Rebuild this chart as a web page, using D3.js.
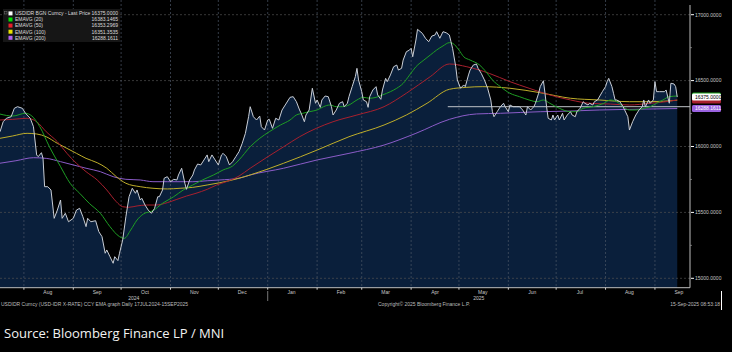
<!DOCTYPE html>
<html>
<head>
<meta charset="utf-8">
<script src="https://cdn.jsdelivr.net/npm/d3@7"></script>
<style>
  body { margin: 0; background: #000; }
  svg { display: block; font-family: 'Liberation Sans', Arial, sans-serif; }
</style>
</head>
<body>
<script>
// USDIDR daily, 17 Jul 2024 - 15 Sep 2025 (day offsets from start)
const startDate = new Date(2024, 6, 17)
const endDay = 433

const priceDays = [0,2,4,7,9,11,14,16,19,21,23,24,26,27,28,30,32,34,36,38,39,41,43,46,48,50,52,54,55,57,
  60,62,64,66,67,69,71,72,74,75,77,79,81,83,85,86,88,89,91,93,95,97,99,100,102,103,105,107,109,111,
  112,114,116,117,119,121,122,124,126,128,130,131,133,135,137,139,140,142,144,146,148,150,152,154,156,157,159,161,163,164,
  166,168,169,171,173,175,177,179,182,184,186,188,189,191,192,194,196,198,199,201,202,204,206,208,209,211,213,215,216,218,
  219,221,223,224,225,227,228,230,231,232,234,236,237,239,240,242,243,245,247,249,250,252,253,255,257,258,259,261,262,265,
  267,269,271,273,274,276,278,280,282,283,284,286,287,289,291,292,294,295,297,299,300,302,304,306,308,309,310,312,314,316,
  317,319,320,322,324,326,328,330,331,333,335,336,338,339,341,342,343,344,346,347,348,350,351,353,354,356,358,359,361,362,
  364,366,367,369,370,372,373,375,378,380,381,382,384,385,386,387,389,391,392,394,395,397,399,401,403,404,405,407,408,410,
  411,412,414,417,418,420,421,423,424,425]
const priceValues = [16112,16188,16214,16226,16290,16302,16290,16252,16214,16150,15936,15923,15953,15910,15695,15695,15670,15455,15518,15594,
  15455,15493,15429,15455,15518,15531,15467,15392,15455,15429,15437,15354,15316,15190,15215,15164,15114,15164,15134,15190,
  15291,15467,15619,15683,15645,15670,15594,15607,15556,15518,15493,15531,15619,15619,15670,15759,15771,15733,15751,15746,
  15784,15835,15721,15675,15746,15784,15822,15867,15860,15898,15936,15885,15936,15898,15860,15936,15948,15923,15860,15885,
  15923,15961,16024,16100,16226,16302,16226,16201,16231,16150,16125,16201,16206,16138,16214,16201,16277,16315,16373,16378,
  16340,16277,16252,16188,16239,16277,16442,16328,16353,16297,16353,16383,16378,16302,16239,16277,16328,16340,16302,16328,
  16378,16454,16530,16593,16505,16416,16353,16340,16297,16378,16429,16454,16391,16358,16429,16517,16492,16543,16605,16618,
  16580,16593,16656,16719,16732,16745,16681,16808,16889,16859,16821,16795,16838,16846,16871,16821,16871,16863,16846,16795,
  16745,16605,16505,16442,16467,16454,16543,16580,16618,16626,16593,16555,16505,16442,16353,16264,16226,16264,16302,16328,
  16302,16264,16315,16302,16302,16302,16277,16239,16302,16277,16302,16328,16404,16454,16499,16404,16302,16214,16201,16239,
  16201,16239,16201,16252,16201,16239,16264,16239,16226,16264,16290,16340,16328,16315,16328,16315,16340,16353,16416,16454,
  16492,16517,16454,16404,16353,16353,16340,16302,16277,16226,16125,16188,16239,16277,16302,16353,16302,16353,16328,16353,
  16492,16416,16416,16416,16429,16328,16480,16474,16454,16375]

// EMA curves: [day, value]
const ema20 = [[0,16246],[8,16231],[16,16252],[20,16231],[25,16150],[31,15998],[38,15847],[44,15721],[50,15645],[56,15569],
  [63,15493],[69,15392],[75,15316],[78,15303],[82,15366],[86,15442],[90,15488],[96,15513],[102,15569],[109,15619],
  [115,15670],[121,15708],[127,15746],[134,15784],[140,15822],[146,15852],[150,15898],[157,15998],[163,16062],[169,16112],
  [176,16163],[182,16201],[186,16239],[190,16252],[194,16264],[199,16277],[203,16302],[207,16315],[211,16302],[215,16302],
  [219,16315],[224,16353],[228,16373],[232,16366],[236,16373],[240,16391],[245,16416],[249,16442],[253,16479],[257,16542],
  [261,16605],[266,16656],[270,16694],[274,16732],[278,16763],[282,16788],[284,16783],[288,16732],[291,16681],[295,16656],
  [301,16618],[305,16567],[309,16505],[314,16454],[320,16404],[326,16378],[332,16353],[337,16340],[341,16353],[345,16328],
  [351,16290],[358,16264],[362,16264],[366,16290],[372,16302],[379,16328],[383,16353],[387,16340],[391,16302],[395,16277],
  [399,16277],[404,16290],[408,16302],[412,16328],[416,16353],[420,16378],[425,16383]]
const ema50 = [[0,16201],[8,16206],[17,16214],[23,16188],[29,16112],[36,16036],[42,15948],[48,15872],[54,15809],[61,15746],
  [67,15670],[73,15581],[77,15543],[81,15539],[86,15549],[92,15556],[98,15556],[105,15574],[111,15599],[117,15624],
  [123,15645],[130,15675],[136,15708],[142,15733],[150,15776],[157,15835],[178,15998],[188,16074],[209,16188],[224,16239],
  [241,16302],[255,16404],[270,16530],[282,16626],[293,16605],[307,16555],[320,16492],[332,16442],[345,16391],[358,16353],
  [370,16328],[383,16322],[395,16315],[408,16328],[418,16340],[425,16353]]
const ema100 = [[0,16062],[8,16080],[17,16100],[23,16095],[29,16074],[36,16024],[42,15986],[48,15948],[54,15910],[61,15877],
  [67,15835],[73,15771],[79,15721],[88,15695],[96,15683],[105,15678],[113,15683],[121,15690],[130,15708],[138,15725],
  [150,15759],[157,15784],[178,15873],[199,15973],[219,16074],[241,16163],[255,16239],[268,16328],[282,16434],[293,16449],
  [303,16454],[320,16442],[339,16408],[358,16366],[376,16353],[395,16340],[408,16340],[425,16351]]
const ema200 = [[0,15873],[10,15892],[21,15915],[29,15910],[38,15885],[46,15860],[54,15835],[63,15809],[71,15771],[79,15751],
  [88,15746],[96,15733],[105,15733],[113,15733],[121,15733],[130,15740],[138,15746],[150,15759],[157,15784],[178,15835],
  [199,15898],[219,15948],[241,16011],[261,16100],[282,16206],[299,16247],[314,16252],[339,16264],[358,16269],[376,16277],
  [395,16282],[425,16288]]

const refLine = { fromDay: 281, value: 16302 }

const seriesNames = ['USDIDR BGN Curncy - Last Price', 'EMAVG (20)', 'EMAVG (50)', 'EMAVG (100)', 'EMAVG (200)']
const seriesLast = ['16375.0000', '16383.1465', '16353.2969', '16351.3535', '16288.1611']
const seriesColors = ['#ffffff', '#1e9e24', '#a8202e', '#bfae2a', '#8b5cc8']
const swatchColors = ['#ffffff', '#00e000', '#e8202a', '#e8e000', '#b060f0']

const monthStarts = ['2024-08-01','2024-09-01','2024-10-01','2024-11-01','2024-12-01','2025-01-01','2025-02-01',
  '2025-03-01','2025-04-01','2025-05-01','2025-06-01','2025-07-01','2025-08-01','2025-09-01']
const monthLabels = ['Aug','Sep','Oct','Nov','Dec','Jan','Feb','Mar','Apr','May','Jun','Jul','Aug','Sep']
const yearLabels = ['2024', '2025']
const yTicks = [15000, 15500, 16000, 16500, 17000]

const W = 732, H = 352
const plotRight = 690, plotBottom = 287.7

const svg = d3.select('body').append('svg')
  .attr('width', W)
  .attr('height', H)
  .style('background', '#000')

const day = n => d3.timeDay.offset(startDate, n)
const parseDate = d3.timeParse('%Y-%m-%d')

const xScale = d3.scaleTime()
  .domain([startDate, day(endDay)])
  .range([0, plotRight])

const yScale = d3.scaleLinear()
  .domain([15000, 17000])
  .range([278.3, 14.7])

const price = priceDays.map((d, i) => ({ date: day(d), value: priceValues[i] }))

// grid
const grid = svg.append('g')
grid.selectAll('.hgrid')
  .data(yTicks)
  .enter().append('line')
  .attr('x1', 0).attr('x2', plotRight)
  .attr('y1', d => yScale(d)).attr('y2', d => yScale(d))
  .style('stroke', '#4f4f4f').style('stroke-width', 0.7).style('stroke-dasharray', '2,2')

// area
svg.append('path')
  .datum(price)
  .attr('d', d3.area()
    .x(d => xScale(d.date))
    .y0(plotBottom)
    .y1(d => yScale(d.value)))
  .style('fill', '#0a1f3b')

grid.raise()
svg.selectAll('.vgrid')
  .data(monthStarts)
  .enter().append('line')
  .attr('x1', d => xScale(parseDate(d))).attr('x2', d => xScale(parseDate(d)))
  .attr('y1', 0).attr('y2', plotBottom)
  .style('stroke', '#4a5466').style('stroke-width', 0.7).style('stroke-dasharray', '2,2')

// reference level
svg.append('line')
  .attr('x1', xScale(day(refLine.fromDay))).attr('x2', plotRight)
  .attr('y1', yScale(refLine.value)).attr('y2', yScale(refLine.value))
  .style('stroke', '#bfc3c8').style('stroke-width', 1)

// EMA lines
const emaLine = d3.line()
  .x(d => xScale(day(d[0])))
  .y(d => yScale(d[1]))
  .curve(d3.curveMonotoneX)

const emas = [ema200, ema100, ema50, ema20]
const emaColors = [seriesColors[4], seriesColors[3], seriesColors[2], seriesColors[1]]
svg.selectAll('.ema')
  .data(emas)
  .enter().append('path')
  .attr('d', emaLine)
  .style('fill', 'none')
  .style('stroke', (d, i) => emaColors[i])
  .style('stroke-width', 1)

// price line
svg.append('path')
  .datum(price)
  .attr('d', d3.line().x(d => xScale(d.date)).y(d => yScale(d.value)))
  .style('fill', 'none')
  .style('stroke', '#c9ced6')
  .style('stroke-width', 1)

// x axis
svg.append('line')
  .attr('x1', 0).attr('x2', plotRight)
  .attr('y1', plotBottom).attr('y2', plotBottom)
  .style('stroke', '#bdbdbd').style('stroke-width', 1)

svg.selectAll('.xtick')
  .data(monthStarts)
  .enter().append('line')
  .attr('x1', d => xScale(parseDate(d))).attr('x2', d => xScale(parseDate(d)))
  .attr('y1', plotBottom).attr('y2', plotBottom + 2)
  .style('stroke', '#d0d0d0').style('stroke-width', 1)

svg.selectAll('.xlabel')
  .data(monthStarts)
  .enter().append('text')
  .attr('x', d => xScale(d3.timeDay.offset(parseDate(d), 15)))
  .attr('y', 294)
  .attr('text-anchor', 'middle')
  .style('font-size', '5px')
  .style('fill', '#c8c8c8')
  .text((d, i) => monthLabels[i])

const yearBreak = xScale(new Date(2025, 0, 1))
svg.selectAll('.year')
  .data(yearLabels)
  .enter().append('text')
  .attr('x', (d, i) => i === 0 ? yearBreak / 2 : (yearBreak + plotRight) / 2)
  .attr('y', 300)
  .attr('text-anchor', 'middle')
  .style('font-size', '5px')
  .style('fill', '#c8c8c8')
  .text(d => d)

svg.append('line')
  .attr('x1', yearBreak).attr('x2', yearBreak)
  .attr('y1', 291).attr('y2', 301)
  .style('stroke', '#aaa').style('stroke-width', 0.7)

// y axis (right)
svg.append('line')
  .attr('x1', plotRight).attr('x2', plotRight)
  .attr('y1', 5).attr('y2', plotBottom)
  .style('stroke', '#bdbdbd').style('stroke-width', 1)

svg.selectAll('.yminor')
  .data(d3.range(15250, 17000, 500))
  .enter().append('line')
  .attr('x1', plotRight).attr('x2', plotRight + 2)
  .attr('y1', d => yScale(d)).attr('y2', d => yScale(d))
  .style('stroke', '#999').style('stroke-width', 0.7)

svg.selectAll('.ytick')
  .data(yTicks)
  .enter().append('line')
  .attr('x1', plotRight + 1).attr('x2', plotRight + 4)
  .attr('y1', d => yScale(d)).attr('y2', d => yScale(d))
  .style('stroke', '#fff').style('stroke-width', 1)

svg.selectAll('.ylabel')
  .data(yTicks)
  .enter().append('text')
  .attr('x', plotRight + 5)
  .attr('y', d => yScale(d) + 1.8)
  .style('font-size', '5px')
  .style('fill', '#c8c8c8')
  .text(d => d.toFixed(4))

// last value tags: EMA20 / EMA50 tags sit behind the last-price tag, only their edges show
const tagData = [
  { value: 16353.2969, color: seriesColors[2], text: '', fg: '#fff' },
  { value: 16383.1465, color: '#1fa51f', text: '', fg: '#fff' },
  { value: 16375, color: '#ffffff', text: seriesLast[0], fg: '#000' },
  { value: 16288.1611, color: '#9a62e0', text: seriesLast[4], fg: '#fff' }
]
const tags = svg.selectAll('.tag')
  .data(tagData)
  .enter().append('g')
  .attr('transform', d => `translate(${plotRight + 2}, ${yScale(d.value)})`)
tags.append('rect')
  .attr('x', 0).attr('y', -3.5)
  .attr('width', 29).attr('height', 7)
  .attr('rx', 1.5)
  .style('fill', d => d.color)
tags.filter(d => d.text).append('text')
  .attr('x', 3).attr('y', 1.8)
  .style('font-size', '5px')
  .style('fill', d => d.fg)
  .text(d => d.text)

// legend
const legend = svg.append('g')
legend.append('rect')
  .attr('x', 3).attr('y', 9)
  .attr('width', 117).attr('height', 33)
  .style('fill', '#161616')
legend.append('rect')
  .attr('x', 4.5).attr('y', 11.5)
  .attr('width', 2.5).attr('height', 2.5)
  .style('fill', 'none').style('stroke', '#777').style('stroke-width', 0.5)
const rows = legend.selectAll('.row')
  .data(seriesNames)
  .enter().append('g')
  .attr('transform', (d, i) => `translate(0, ${13.4 + i * 6.1})`)
rows.append('rect')
  .attr('x', 8.5).attr('y', -2)
  .attr('width', 4).attr('height', 4)
  .style('fill', (d, i) => swatchColors[i])
rows.append('text')
  .attr('x', 15).attr('y', 1.8)
  .style('font-size', '5px')
  .style('fill', '#dcdcdc')
  .text(d => d)
rows.append('text')
  .attr('x', 118).attr('y', 1.8)
  .attr('text-anchor', 'end')
  .style('font-size', '5px')
  .style('fill', '#dcdcdc')
  .text((d, i) => seriesLast[i])

// footer
const footer = svg.append('g').style('font-size', '5px').style('fill', '#bdbdbd')
footer.append('text').attr('x', 1).attr('y', 306)
  .text('USDIDR Curncy (USD-IDR X-RATE) CCY EMA graph  Daily 17JUL2024-15SEP2025')
footer.append('text').attr('x', 378).attr('y', 306)
  .text('Copyright\u00a9 2025 Bloomberg Finance L.P.')
footer.append('text').attr('x', 720).attr('y', 306).attr('text-anchor', 'end')
  .text('15-Sep-2025 08:53:18')
svg.append('line')
  .attr('x1', 721.5).attr('x2', 721.5)
  .attr('y1', 291).attr('y2', 310)
  .style('stroke', '#fff').style('stroke-width', 1)

svg.append('text')
  .attr('x', 4).attr('y', 338)
  .style('font-family', "'Open Sans', 'Noto Sans', sans-serif")
  .style('font-size', '13px')
  .style('fill', '#f2f2f2')
  .text('Source: Bloomberg Finance LP / MNI')
</script>
</body>
</html>
